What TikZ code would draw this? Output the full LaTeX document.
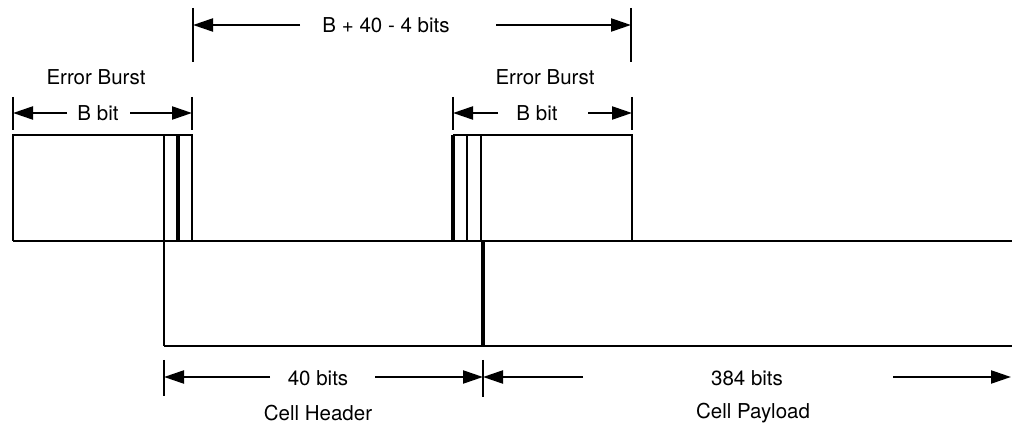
\documentclass[tikz,border=0pt]{standalone}
\usepackage{fontspec}
\setmainfont{TeX Gyre Heros}
\usetikzlibrary{arrows.meta}
\begin{document}
\begin{tikzpicture}[x=1pt,y=-1pt,
  thinln/.style={line width=2.4pt},
  thickln/.style={line width=4.4pt},
  tickln/.style={line width=2.6pt},
  dimarrow/.style={line width=2.2pt,-{Triangle[length=20pt,width=13pt]}},
  lbl/.style={inner sep=0pt,font=\fontsize{20.5}{24}\selectfont}]
\useasboundingbox (0,0) rectangle (1012,427);
% waveform
\draw[thinln] (13,241) -- (13,135) -- (192,135) -- (192,241);
\draw[thinln] (164,135) -- (164,346);
\draw[thickln] (178,135) -- (178,241);
\draw[thinln] (13,241) -- (1012,241);
\draw[thinln] (164,346) -- (1012,346);
\draw[thickln] (453,241) -- (453,135);
\draw[thinln] (453,135) -- (632,135) -- (632,241);
\draw[thinln] (467,135) -- (467,241);
\draw[thinln] (481,135) -- (481,241);
\draw[thickln] (483,241) -- (483,346);
% ticks
\coordinate (ta) at (193,8);  \coordinate (tb) at (193,62);
\coordinate (tc) at (631,8);  \coordinate (td) at (631,62);
\draw[tickln] (ta) -- (tb);
\draw[tickln] (tc) -- (td);
\coordinate (l1) at (13,97);  \coordinate (l2) at (13,130);
\coordinate (l3) at (192,97); \coordinate (l4) at (192,130);
\draw[tickln] (l1) -- (l2);
\draw[tickln] (l3) -- (l4);
\coordinate (r1) at (453,97);  \coordinate (r2) at (453,130);
\coordinate (r3) at (632,97);  \coordinate (r4) at (632,130);
\draw[tickln] (r1) -- (r2);
\draw[tickln] (r3) -- (r4);
\coordinate (b1) at (164,360); \coordinate (b2) at (164,396);
\coordinate (b3) at (483,360); \coordinate (b4) at (483,397);
\draw[tickln] (b1) -- (b2);
\draw[tickln] (b3) -- (b4);
% labels
\node[lbl] (top) at (386,25) {B + 40 - 4 bits};
\node[lbl] (eb1) at (96,77) {Error Burst};
\node[lbl] (bb1) at (98,113) {B bit};
\node[lbl] (eb2) at (545,77) {Error Burst};
\node[lbl] (bb2) at (537,113) {B bit};
\node[lbl] (b40) at (318,378) {40 bits};
\node[lbl] (ch) at (318,413) {Cell Header};
\node[lbl] (b384) at (747,378) {384 bits};
\node[lbl] (cp) at (753,413) {Cell Payload};
% arrow endpoints
\coordinate (a1s) at (300,25); \coordinate (a1e) at (193,25);
\coordinate (a2s) at (496,25); \coordinate (a2e) at (631,25);
\coordinate (a3s) at (67,113); \coordinate (a3e) at (13,113);
\coordinate (a4s) at (130,113); \coordinate (a4e) at (192,113);
\coordinate (a5s) at (498,113); \coordinate (a5e) at (453,113);
\coordinate (a6s) at (588,113); \coordinate (a6e) at (632,113);
\coordinate (a7s) at (270,377); \coordinate (a7e) at (164,377);
\coordinate (a8s) at (375,377); \coordinate (a8e) at (483,377);
\coordinate (a9s) at (583,377); \coordinate (a9e) at (483,377);
\coordinate (a10s) at (893,377); \coordinate (a10e) at (1011,377);
\draw[dimarrow] (a1s) -- (a1e);
\draw[dimarrow] (a2s) -- (a2e);
\draw[dimarrow] (a3s) -- (a3e);
\draw[dimarrow] (a4s) -- (a4e);
\draw[dimarrow] (a5s) -- (a5e);
\draw[dimarrow] (a6s) -- (a6e);
\draw[dimarrow] (a7s) -- (a7e);
\draw[dimarrow] (a8s) -- (a8e);
\draw[dimarrow] (a9s) -- (a9e);
\draw[dimarrow] (a10s) -- (a10e);
\end{tikzpicture}
\end{document}
